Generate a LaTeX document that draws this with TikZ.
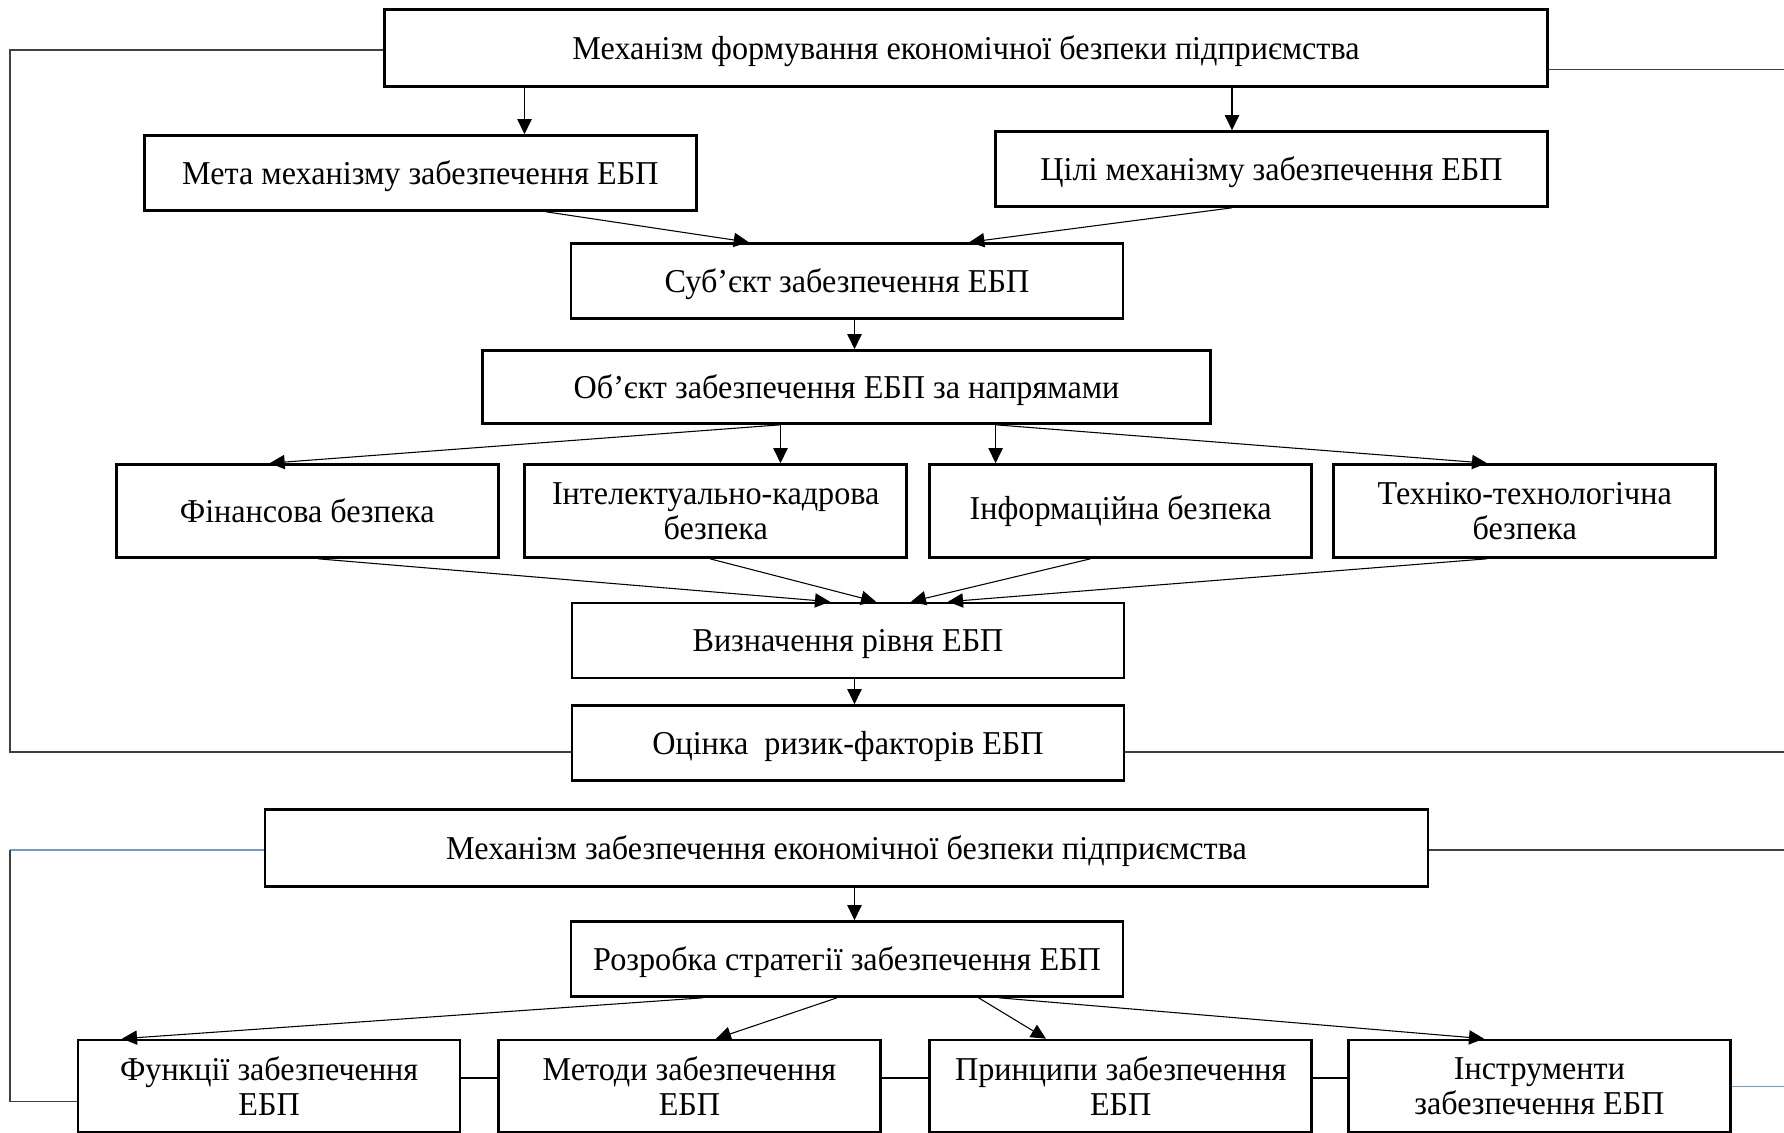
\documentclass[tikz,border=0pt]{standalone}
\usepackage{fontspec}
\setmainfont{Liberation Serif}[FakeStretch=0.965]
\usetikzlibrary{arrows.meta,calc}
\newcommand{\pxu}{0.42pt}
\definecolor{fbgray}{HTML}{404040}
\definecolor{fbblue}{HTML}{7397D8}
\tikzset{
  box/.style={draw, line width=1.1pt, inner sep=0pt, align=center,
    font=\fontsize{14}{14.7}\selectfont},
  oneline/.style={box, text height=0.95em, text depth=0pt},
  widebox/.style={oneline, minimum width=1163*\pxu, minimum height=77*\pxu},
  midbox/.style={oneline, minimum width=552*\pxu, minimum height=75*\pxu},
  objbox/.style={oneline, minimum width=728*\pxu, minimum height=73*\pxu},
  smallbox/.style={box, minimum width=382*\pxu, minimum height=93*\pxu},
  arr/.style={line width=0.45pt, -{Triangle[length=6.3pt,width=6pt]}},
  fbline/.style={line width=0.5pt, fbgray},
  bluefb/.style={line width=0.6pt, fbblue}
}
\begin{document}
\begin{tikzpicture}[x=0.42pt, y=-0.42pt]
\useasboundingbox (0,0) rectangle (1784,1133);
\clip (0,0) rectangle (1784,1133);
% upper part
\node[widebox] (form) at (966,47.8) {Механізм формування економічної безпеки підприємства};
\node[midbox] (meta) at (420.4,173) {Мета механізму забезпечення ЕБП};
\node[midbox] (tsili) at (1271.5,169) {Цілі механізму забезпечення ЕБП};
\node[midbox] (subj) at (847,281) {Суб’єкт забезпечення ЕБП};
\node[objbox] (obj) at (846.5,387) {Об’єкт забезпечення ЕБП за напрямами};
\foreach \n/\x/\t in {fin/307.2/{Фінансова безпека},
    intel/715.7/{Інтелектуально-кадрова\\безпека},
    inf/1120.7/{Інформаційна безпека},
    tech/1524.7/{Техніко-технологічна\\безпека}}{
  \node[smallbox] (\n) at (\x,511) {\t};
}
\node[midbox] (rivn) at (848,640.5) {Визначення рівня ЕБП};
\node[midbox] (ocin) at (848,743) {Оцінка~ ризик-факторів ЕБП};
% lower part
\node[widebox] (zabez) at (846.5,848.2) {Механізм забезпечення економічної безпеки підприємства};
\node[midbox] (strat) at (847,959) {Розробка стратегії забезпечення ЕБП};
\foreach \n/\x/\t in {func/269.1/{Функції забезпечення\\ЕБП},
    met/689.5/{Методи забезпечення\\ЕБП},
    prin/1120.7/{Принципи забезпечення\\ЕБП},
    instr/1539.4/{Інструменти\\забезпечення ЕБП}}{
  \node[smallbox, minimum height=92*\pxu] (\n) at (\x,1086) {\t};
}
% straight arrows
\foreach \a/\b/\x in {form/meta/524.5, form/tsili/1232, subj/obj/854.5,
    obj/intel/780.5, obj/inf/995.6, rivn/ocin/854.5, zabez/strat/854.5}{
  \draw[arr] (\a.south -| \x,0) -- (\b.north -| \x,0);
}
% slanted arrows
\foreach \a/\xa/\b/\xb in {meta/546/subj/748.7, tsili/1232/subj/969.4,
    obj/780.5/fin/269.7, obj/995.6/tech/1487,
    fin/318/rivn/830, intel/710/rivn/876, inf/1090.5/rivn/911, tech/1487/rivn/948,
    strat/703/func/122, strat/837/met/716, strat/978.6/prin/1046, strat/999/instr/1484}{
  \draw[arr] (\a.south -| \xa,0) -- (\b.north -| \xb,0);
}
% links between the bottom boxes
\coordinate (lk) at (0,1078);
\foreach \a/\b in {func/met, met/prin, prin/instr}{
  \draw[line width=0.5pt] (\a.east |- lk) -- (\b.west |- lk);
}
% feedback lines
\coordinate (fbTL) at (10,50);
\coordinate (fbBL) at (10,752);
\coordinate (fbTR) at (1784,69.4);
\coordinate (fbBR) at (1784,752);
\draw[fbline] (form.west |- fbTL) -- (fbTL) -- (fbBL) -- (ocin.west |- fbBL);
\draw[fbline] (form.east |- fbTR) -- (fbTR);
\draw[fbline] (ocin.east |- fbBR) -- (fbBR);
\coordinate (fb2TL) at (10,850);
\coordinate (fb2BL) at (10,1101.4);
\coordinate (fb2R) at (1784,850);
\coordinate (fbI) at (1784,1086.6);
\draw[bluefb] (zabez.west |- fb2TL) -- (fb2TL);
\draw[fbline] (fb2TL) -- (fb2BL) -- (func.west |- fb2BL);
\draw[fbline] (zabez.east |- fb2R) -- (fb2R);
\draw[bluefb] (instr.east |- fbI) -- (fbI);
\end{tikzpicture}
\end{document}
